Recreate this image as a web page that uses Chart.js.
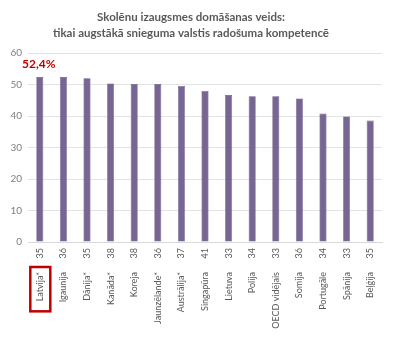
<!DOCTYPE html>
<html>
<head>
<meta charset="utf-8">
<script src="https://cdn.jsdelivr.net/npm/chart.js@4/dist/chart.umd.min.js"></script>
<style>
html,body{margin:0;padding:0;background:#fff;}
#wrap{width:400px;height:341px;}
</style>
</head>
<body>
<div id="wrap"><canvas id="c" width="400" height="341"></canvas></div>
<script>
const titleLines = ["Skolēnu izaugsmes domāšanas veids:", "tikai augstākā snieguma valstis radošuma kompetencē"];
const countries = ["Latvija*", "Igaunija", "Dānija*", "Kanāda*", "Koreja", "Jaunzēlande*", "Austrālija*", "Singapūra", "Lietuva", "Polija", "OECD vidējais", "Somija", "Portugāle", "Spānija", "Beļģija"];
const counts = ["35", "36", "35", "38", "38", "36", "37", "41", "33", "34", "33", "36", "34", "33", "35"];
const values = [52.4, 52.4, 52.0, 50.4, 50.2, 50.2, 49.6, 48.0, 46.7, 46.3, 46.3, 45.6, 40.8, 39.9, 38.6];
const yTicks = [0, 10, 20, 30, 40, 50, 60];
const highlightIndex = 0;

const FONT = "Lato, 'Liberation Sans', sans-serif";
const RED = "#c00000";

const highlightPlugin = {
  id: 'highlight',
  afterDatasetsDraw(chart) {
    const ctx = chart.ctx;
    const meta = chart.getDatasetMeta(0);
    const bar = meta.data[highlightIndex];
    const v = values[highlightIndex];
    ctx.save();
    ctx.fillStyle = RED;
    ctx.font = "bold 12px " + FONT;
    ctx.textAlign = 'center';
    ctx.textBaseline = 'middle';
    ctx.fillText(v.toFixed(1).replace('.', ',') + '%', bar.x - 1, bar.y - 13);
    // box around highlighted country label
    const sx = chart.scales.names;
    const cx = sx.getPixelForValue(highlightIndex);
    ctx.font = "9px " + FONT;
    const w = ctx.measureText(countries[highlightIndex]).width;
    const top = sx.top;
    ctx.strokeStyle = RED;
    ctx.lineWidth = 2.5;
    ctx.strokeRect(cx - 9.5, top, 20, w + 15);
    ctx.restore();
  }
};

new Chart(document.getElementById('c'), {
  type: 'bar',
  data: {
    labels: counts,
    datasets: [{
      data: values,
      backgroundColor: '#776594',
      borderColor: '#6a5888',
      borderWidth: 0.6,
      barPercentage: 0.3,
      categoryPercentage: 1.0,
      xAxisID: 'x',
      yAxisID: 'y'
    }]
  },
  options: {
    responsive: false,
    animation: false,
    devicePixelRatio: 1,
    layout: { padding: { left: 0, right: 18, top: 0, bottom: 0 } },
    plugins: {
      legend: { display: false },
      tooltip: { enabled: false },
      title: {
        display: true,
        text: titleLines,
        color: '#595959',
        font: { family: FONT, size: 11.5, weight: 'bold', lineHeight: 1.4 },
        padding: { top: 9, bottom: 12 }
      }
    },
    scales: {
      x: {
        type: 'category',
        position: 'bottom',
        offset: true,
        grid: { display: false, drawTicks: false },
        border: { display: true, color: '#d9d9d9', width: 1 },
        ticks: { color: '#595959', font: { family: FONT, size: 9 }, minRotation: 90, maxRotation: 90, autoSkip: false, padding: 6 },
        afterFit(s) { s.height = 25; }
      },
      names: {
        type: 'category',
        labels: countries,
        position: 'bottom',
        offset: true,
        grid: { display: false, drawTicks: false },
        border: { display: false },
        ticks: { color: '#595959', font: { family: FONT, size: 9 }, minRotation: 90, maxRotation: 90, autoSkip: false, padding: 5 },
        afterFit(s) { s.height = 74; }
      },
      y: {
        min: 0,
        max: 60,
        grid: { color: '#e3e3e3', drawTicks: false },
        border: { display: false },
        afterBuildTicks(s) { s.ticks = yTicks.map(v => ({ value: v })); },
        ticks: { color: '#7f7f7f', font: { family: FONT, size: 10 }, padding: 6 },
        afterFit(s) { s.width = 28; }
      }
    }
  },
  plugins: [highlightPlugin]
});
</script>
</body>
</html>
